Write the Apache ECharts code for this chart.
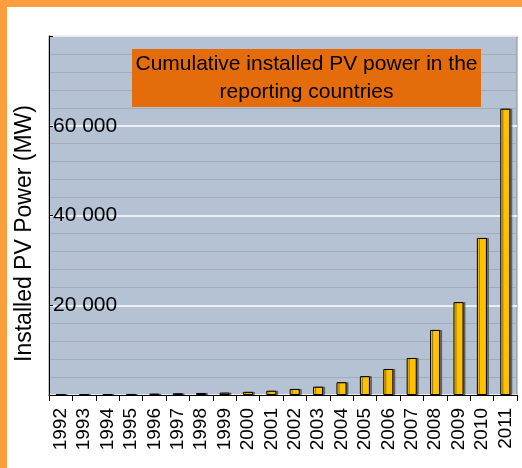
<!DOCTYPE html>
<html>
<head>
<meta charset="utf-8">
<script src="https://cdn.jsdelivr.net/npm/echarts@6/dist/echarts.min.js"></script>
<style>
  html, body { margin: 0; padding: 0; background: #fff; }
  #chart { width: 522px; height: 468px; }
</style>
</head>
<body>
<div id="chart"></div>
<script>
// data (MW)
const years = ['1992','1993','1994','1995','1996','1997','1998','1999','2000','2001',
               '2002','2003','2004','2005','2006','2007','2008','2009','2010','2011'];
const cumulativePower = [110, 140, 180, 230, 300, 380, 450, 530, 700, 950,
                         1350, 1850, 2850, 4200, 5800, 8250, 14500, 20700, 35000, 63800];
const yTickLabels = ['20 000', '40 000', '60 000'];

const chart = echarts.init(document.getElementById('chart'));

const option = {
  animation: false,
  grid: {
    left: 49, top: 36, right: 5, bottom: 73,
    show: true,
    backgroundColor: '#b4c2d4',
    borderColor: '#8c8c8c',
    borderWidth: 1
  },
  graphic: [
    { type: 'rect', shape: { x: 0, y: 0, width: 522, height: 7 }, style: { fill: '#fb9f3e' } },
    { type: 'rect', shape: { x: 0, y: 0, width: 7, height: 468 }, style: { fill: '#fb9f3e' } },
    { type: 'rect', z: 10, shape: { x: 132, y: 49, width: 349, height: 58 }, style: { fill: '#e46c0a' } },
    {
      type: 'text', z: 11, x: 306.5, y: 78,
      style: {
        text: 'Cumulative installed PV power in the\nreporting countries',
        font: '21px "Liberation Sans", Arial, sans-serif',
        fill: '#000',
        align: 'center',
        verticalAlign: 'middle',
        lineHeight: 28
      }
    }
  ],
  xAxis: {
    type: 'category',
    data: years,
    boundaryGap: true,
    axisLine: { lineStyle: { color: '#000', width: 1 } },
    axisTick: { show: true, length: 6, lineStyle: { color: '#000' } },
    axisLabel: {
      interval: 0,
      rotate: 90,
      margin: 13,
      color: '#000',
      fontSize: 19,
      fontFamily: '"Liberation Sans", Arial, sans-serif'
    }
  },
  yAxis: {
    type: 'value',
    min: 0,
    max: 80000,
    interval: 20000,
    name: 'Installed PV Power (MW)',
    nameLocation: 'middle',
    nameRotate: 90,
    nameGap: 13,
    nameMoveOverlap: false,
    nameTextStyle: {
      color: '#000',
      fontSize: 23,
      fontFamily: '"Liberation Sans", Arial, sans-serif',
      padding: [0, 36, 0, 0]
    },
    axisLine: { show: true, lineStyle: { color: '#000', width: 1 } },
    axisTick: { show: true, inside: true, length: 4, lineStyle: { color: '#000' } },
    axisLabel: {
      inside: true,
      margin: 4,
      color: '#000',
      fontSize: 21,
      fontFamily: '"Liberation Sans", Arial, sans-serif',
      padding: [6, 0, 0, 0],
      formatter: function (v) {
        const i = v / 20000 - 1;
        return yTickLabels[i] || '';
      }
    },
    splitLine: { show: true, lineStyle: { color: '#ffffff', width: 1.5 } },
    minorTick: { show: false, splitNumber: 5 },
    minorSplitLine: { show: true, lineStyle: { color: '#a5acb6', width: 1 } }
  },
  series: [
    {
      type: 'bar',
      data: cumulativePower,
      barWidth: '43%',
      itemStyle: {
        color: '#ffc000',
        borderColor: '#000',
        borderWidth: 1,
        shadowColor: 'rgba(60,60,60,0.6)',
        shadowOffsetX: 2,
        shadowOffsetY: 0,
        shadowBlur: 0
      }
    }
  ]
};

chart.setOption(option);
</script>
</body>
</html>
